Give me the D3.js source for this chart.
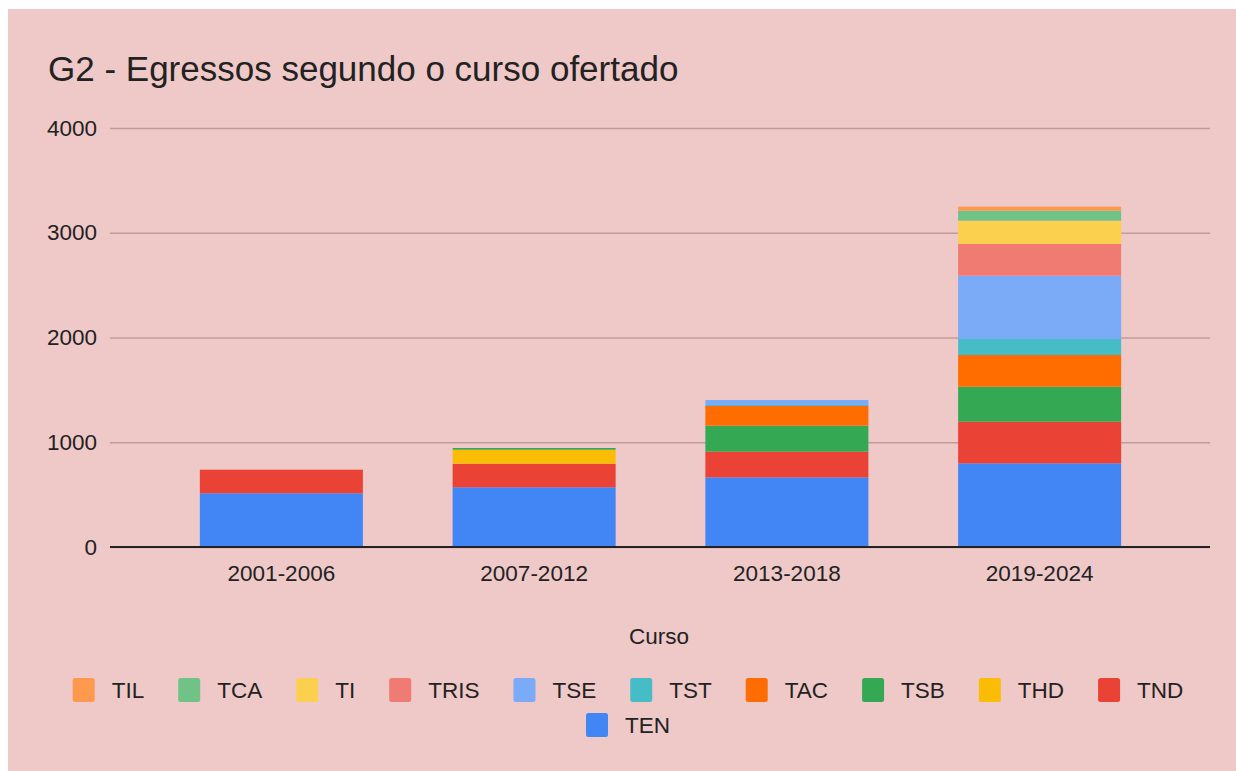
<!DOCTYPE html>
<html>
<head>
<meta charset="utf-8">
<script src="https://cdn.jsdelivr.net/npm/d3@7"></script>
<style>
  html, body { margin: 0; padding: 0; background: #ffffff; }
  text { font-family: "Liberation Sans", Arial, sans-serif; fill: #222; }
</style>
</head>
<body>
<div id="chart"></div>
<script>
const periods = ["2001-2006", "2007-2012", "2013-2018", "2019-2024"];
const courses = ["TEN", "TND", "THD", "TSB", "TAC", "TST", "TSE", "TRIS", "TI", "TCA", "TIL"];
const colors = ["#4285f4", "#ea4335", "#fbbc04", "#34a853", "#ff6d01", "#46bdc6", "#7baaf7", "#f07b72", "#fcd04f", "#71c287", "#ff994d"];

// egressos per course, one value per period
const TEN  = [513, 570, 665, 799];
const TND  = [225, 225, 245, 397];
const THD  = [0, 134, 0, 0];
const TSB  = [0, 16, 248, 334];
const TAC  = [0, 0, 188, 303];
const TST  = [0, 0, 10, 153];
const TSE  = [0, 0, 47, 604];
const TRIS = [0, 0, 0, 303];
const TI   = [0, 0, 0, 222];
const TCA  = [0, 0, 0, 96];
const TIL  = [0, 0, 0, 38];
const yTicks = [0, 1000, 2000, 3000, 4000];

const seriesValues = {TEN, TND, THD, TSB, TAC, TST, TSE, TRIS, TI, TCA, TIL};

const width = 1236, height = 771;
const bg = "#efc8c8";
const fontSize = "22.5px";

const rows = periods.map((p, i) => {
    const row = {period: p};
    courses.forEach(c => row[c] = seriesValues[c][i]);
    return row;
});

const svg = d3.select("#chart")
    .append("svg")
    .attr("width", width)
    .attr("height", height);

svg.append("rect")
    .attr("x", 8)
    .attr("y", 9)
    .attr("width", width - 8)
    .attr("height", height - 9)
    .attr("fill", bg);

svg.append("text")
    .attr("x", 48)
    .attr("y", 81)
    .style("font-size", "35px")
    .text("G2 - Egressos segundo o curso ofertado");

const x = d3.scaleBand()
    .domain(periods)
    .range([155, 1166])
    .paddingInner(0.355)
    .paddingOuter(0.1775);

const y = d3.scaleLinear()
    .domain([0, 4000])
    .range([547, 128]);

const color = d3.scaleOrdinal()
    .domain(courses)
    .range(colors);

// gridlines + y labels
const yAxis = svg.append("g")
    .attr("transform", "translate(110,0)")
    .call(d3.axisLeft(y).tickValues(yTicks).tickSize(-1100).tickPadding(13).tickFormat(d3.format("d")));
yAxis.select(".domain").remove();
yAxis.selectAll(".tick line")
    .attr("stroke", "#bf9c9c")
    .attr("stroke-width", 1.5);
yAxis.selectAll(".tick text")
    .style("font-size", fontSize)
    .style("font-family", "'Liberation Sans', Arial, sans-serif")
    .attr("fill", "#222");

const stacked = d3.stack().keys(courses)(rows);

svg.append("g")
    .selectAll("g")
    .data(stacked)
    .join("g")
    .attr("fill", d => color(d.key))
    .selectAll("rect")
    .data(d => d)
    .join("rect")
    .attr("x", d => x(d.data.period))
    .attr("width", x.bandwidth())
    .attr("y", d => y(d[1]))
    .attr("height", d => y(d[0]) - y(d[1]));

// zero line
svg.append("line")
    .attr("x1", 110)
    .attr("x2", 1210)
    .attr("y1", y(0))
    .attr("y2", y(0))
    .attr("stroke", "#222")
    .attr("stroke-width", 2);

// x labels
const xAxis = svg.append("g")
    .attr("transform", `translate(0,${y(0)})`)
    .call(d3.axisBottom(x).tickSize(0).tickPadding(18));
xAxis.select(".domain").remove();
xAxis.selectAll(".tick text")
    .style("font-size", fontSize)
    .style("font-family", "'Liberation Sans', Arial, sans-serif")
    .attr("fill", "#222");

svg.append("text")
    .attr("x", 659)
    .attr("y", 644)
    .attr("text-anchor", "middle")
    .style("font-size", fontSize)
    .text("Curso");

// legend, top series first
const legendOrder = courses.slice().reverse();
const legendRows = [legendOrder.slice(0, 10), legendOrder.slice(10)];
const legendY = [690, 725];
const legendCenter = 628;

legendRows.forEach((items, r) => {
    const g = svg.append("g");
    let cx = 0;
    items.forEach(name => {
        const item = g.append("g").attr("transform", `translate(${cx},0)`);
        item.append("rect")
            .attr("x", 0)
            .attr("y", -12)
            .attr("width", 22)
            .attr("height", 24)
            .attr("rx", 2.5)
            .attr("fill", color(name));
        const t = item.append("text")
            .attr("x", 39)
            .attr("y", 8)
            .style("font-size", fontSize)
            .text(name);
        cx += 39 + t.node().getComputedTextLength() + 34;
    });
    const total = cx - 34;
    g.attr("transform", `translate(${legendCenter - total / 2},${legendY[r]})`);
});
</script>
</body>
</html>
